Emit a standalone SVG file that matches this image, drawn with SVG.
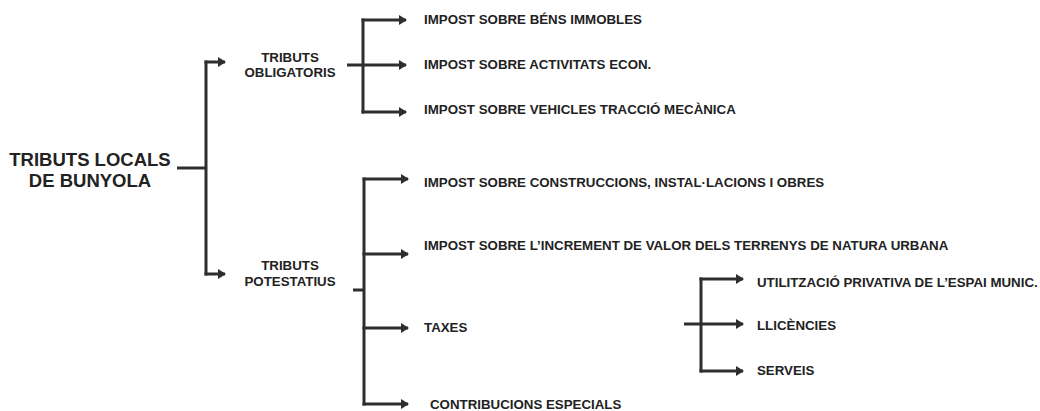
<svg xmlns="http://www.w3.org/2000/svg" width="1040" height="411" viewBox="0 0 1040 411">
<style>
.t{font-family:"Liberation Sans",Arial,sans-serif;font-weight:bold;fill:#222222;font-size:13.3px}
.title{font-size:18.5px}
.c{fill:none;stroke:#2e2e2e;stroke-width:3}
.a{marker-end:url(#ah)}
</style>
<defs>
<marker id="ah" viewBox="0 0 8 10" refX="7" refY="5" markerWidth="8" markerHeight="10" markerUnits="userSpaceOnUse" orient="auto">
<path d="M0,0 L8,5 L0,10 z" fill="#2e2e2e"/>
</marker>
</defs>
<rect width="1040" height="411" fill="#ffffff"/>
<g id="connectors">
<path class="c" d="M177,168 H206"/>
<path class="c" d="M206,60.5 V275.5"/>
<path class="c a" d="M204.5,62 H225"/>
<path class="c a" d="M204.5,274 H225"/>
<path class="c" d="M363,18.5 V113.5"/>
<path class="c a" d="M361.5,20 H406"/>
<path class="c a" d="M347,65 H406"/>
<path class="c a" d="M361.5,112 H406"/>
<path class="c" d="M364,177.5 V405.5"/>
<path class="c" d="M353,290 H364"/>
<path class="c a" d="M362.5,179 H408"/>
<path class="c a" d="M362.5,254 H408"/>
<path class="c a" d="M362.5,328 H408"/>
<path class="c a" d="M362.5,404 H408"/>
<path class="c" d="M701,277.5 V372.5"/>
<path class="c a" d="M699.5,279 H743"/>
<path class="c a" d="M684,324 H743"/>
<path class="c a" d="M699.5,371 H743"/>
</g>
<g id="n-root"><text class="t title" x="90" y="166" text-anchor="middle">TRIBUTS LOCALS</text><text class="t title" x="90" y="187" text-anchor="middle">DE BUNYOLA</text></g>
<g id="n-obligatoris"><text class="t" x="290" y="62" text-anchor="middle">TRIBUTS</text><text class="t" x="290" y="77" text-anchor="middle">OBLIGATORIS</text></g>
<g id="n-potestatius"><text class="t" x="290" y="270" text-anchor="middle">TRIBUTS</text><text class="t" x="290" y="286" text-anchor="middle">POTESTATIUS</text></g>
<g id="n-ibi"><text class="t" x="424" y="24">IMPOST SOBRE BÉNS IMMOBLES</text></g>
<g id="n-iae"><text class="t" x="424" y="69">IMPOST SOBRE ACTIVITATS ECON.</text></g>
<g id="n-ivtm"><text class="t" x="424" y="114">IMPOST SOBRE VEHICLES TRACCIÓ MECÀNICA</text></g>
<g id="n-icio"><text class="t" x="424" y="187">IMPOST SOBRE CONSTRUCCIONS, INSTAL·LACIONS I OBRES</text></g>
<g id="n-iivtnu"><text class="t" x="424" y="250">IMPOST SOBRE L’INCREMENT DE VALOR DELS TERRENYS DE NATURA URBANA</text></g>
<g id="n-taxes"><text class="t" x="424" y="332">TAXES</text></g>
<g id="n-contrib"><text class="t" x="430" y="409">CONTRIBUCIONS ESPECIALS</text></g>
<g id="n-utilitzacio"><text class="t" x="757" y="287">UTILITZACIÓ PRIVATIVA DE L’ESPAI MUNIC.</text></g>
<g id="n-llicencies"><text class="t" x="757" y="330">LLICÈNCIES</text></g>
<g id="n-serveis"><text class="t" x="757" y="375">SERVEIS</text></g>
</svg>
